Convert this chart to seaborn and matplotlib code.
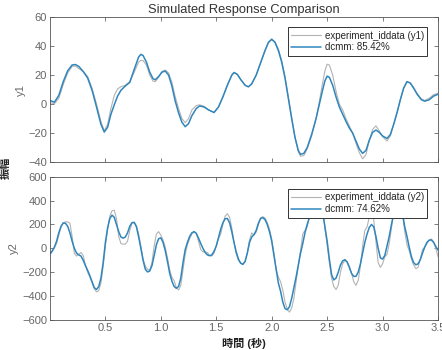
import numpy as np
import pandas as pd
import matplotlib
matplotlib.use("Agg")
import matplotlib.pyplot as plt
import seaborn as sns

# top panel: time, simulated (dcmm) and measured (experiment) output y1
t1 = [0.00, 0.04, 0.08, 0.12, 0.16, 0.20, 0.23, 0.26, 0.30, 0.34, 0.38, 0.42, 0.46, 0.49,
      0.52, 0.55, 0.58, 0.61, 0.64, 0.68, 0.72, 0.76, 0.80, 0.82, 0.84, 0.87, 0.90, 0.93,
      0.95, 0.98, 1.01, 1.04, 1.07, 1.10, 1.13, 1.16, 1.19, 1.22, 1.25, 1.28, 1.32, 1.35,
      1.39, 1.43, 1.48, 1.52, 1.56, 1.60, 1.64, 1.66, 1.69, 1.72, 1.76, 1.79, 1.82, 1.86,
      1.90, 1.94, 1.97, 2.00, 2.03, 2.06, 2.09, 2.12, 2.15, 2.18, 2.21, 2.24, 2.26, 2.29,
      2.32, 2.36, 2.40, 2.43, 2.46, 2.48, 2.50, 2.52, 2.55, 2.58, 2.61, 2.64, 2.67, 2.70,
      2.73, 2.76, 2.79, 2.82, 2.85, 2.88, 2.91, 2.94, 2.97, 3.00, 3.04, 3.07, 3.10, 3.13,
      3.16, 3.19, 3.22, 3.25, 3.28, 3.31, 3.35, 3.38, 3.42, 3.46, 3.50]
y1_sim = [2.5, 1.3, 6, 15.5, 23, 27, 27.3, 26, 22.5, 18, 9.5, -2, -14, -19.3,
          -16, -7, -0.5, 5.5, 9.5, 12.5, 15, 24, 32.5, 34.3, 33.5, 29, 22, 17.5,
          16.8, 19, 22, 22.8, 20, 12.5, 2, -6, -12.5, -15.6, -13.5, -8, -3, -1.3,
          -2, -4, -5.8, -2, 5, 13, 20, 21.8, 20.5, 17, 13, 11.9, 14, 20,
          28.5, 37, 42.5, 44.8, 42.5, 37, 29, 18, 4, -10, -23, -32, -34.7, -34,
          -30, -21, -10, 0, 10, 16, 19.3, 18.5, 13, 5, -2, -7, -12, -16.5,
          -20, -25.5, -31, -34, -32, -25, -19.5, -17.9, -19.5, -22, -23.7, -21, -14, -6,
          3, 11, 15.5, 14.5, 11, 7, 3, 2, 3, 5.5, 6.8]
y1_exp = [1.0, 0.3, 4, 13.5, 21.5, 26, 26.3, 24.5, 22.5, 19, 11, 0, -12, -18.5,
          -14, -3, 6, 10.5, 12, 13, 15.5, 22, 29, 30.2, 30, 27, 20, 15.8,
          15.5, 18.5, 22.5, 23.5, 21.5, 15, 5, -3, -10, -12.8, -10, -4, -1, -0.5,
          -1.5, -4, -5.8, -2, 5, 13, 20, 21.8, 20.5, 17, 13, 11.9, 14, 20,
          28.5, 37, 42.5, 44.5, 43, 38, 30, 19, 5, -9, -23, -33, -36, -35.5,
          -31, -22, -10, 2, 15, 23, 27.5, 27, 20, 9, 0, -4, -10, -15,
          -20, -27, -33.5, -37.8, -35, -25, -17.5, -15, -18.5, -22.5, -25.5, -22, -14, -6,
          3, 11, 15.5, 14.5, 11.5, 7.5, 3.5, 2.5, 4, 6.5, 7.5]

# bottom panel: output y2
t2 = [0.00, 0.02, 0.04, 0.06, 0.08, 0.10, 0.12, 0.14, 0.16, 0.18, 0.20, 0.22, 0.24, 0.26,
      0.28, 0.30, 0.32, 0.34, 0.36, 0.38, 0.40, 0.42, 0.44, 0.46, 0.48, 0.50, 0.52, 0.54,
      0.56, 0.58, 0.60, 0.62, 0.64, 0.66, 0.68, 0.70, 0.72, 0.74, 0.76, 0.78, 0.80, 0.82,
      0.84, 0.86, 0.88, 0.90, 0.92, 0.94, 0.96, 0.98, 1.00, 1.02, 1.04, 1.06, 1.08, 1.10,
      1.12, 1.14, 1.16, 1.18, 1.20, 1.22, 1.24, 1.26, 1.28, 1.30, 1.32, 1.34, 1.36, 1.38,
      1.40, 1.42, 1.44, 1.46, 1.48, 1.50, 1.52, 1.54, 1.56, 1.58, 1.60, 1.62, 1.64, 1.66,
      1.68, 1.70, 1.72, 1.74, 1.76, 1.78, 1.80, 1.82, 1.84, 1.86, 1.88, 1.90, 1.92, 1.94,
      1.96, 1.98, 2.00, 2.02, 2.04, 2.06, 2.08, 2.10, 2.12, 2.14, 2.16, 2.18, 2.20, 2.22,
      2.24, 2.26, 2.28, 2.30, 2.32, 2.34, 2.36, 2.38, 2.40, 2.42, 2.44, 2.46, 2.48, 2.50,
      2.52, 2.54, 2.56, 2.58, 2.60, 2.62, 2.64, 2.66, 2.68, 2.70, 2.72, 2.74, 2.76, 2.78,
      2.80, 2.82, 2.84, 2.86, 2.88, 2.90, 2.92, 2.94, 2.96, 2.98, 3.00, 3.02, 3.04, 3.06,
      3.08, 3.10, 3.12, 3.14, 3.16, 3.18, 3.20, 3.22, 3.24, 3.26, 3.28, 3.30, 3.32, 3.34,
      3.36, 3.38, 3.40, 3.42, 3.44, 3.46, 3.48, 3.50]
y2_sim = [-50, -25, 10, 60, 130, 185, 212, 210, 185, 130, 60, 0, -40, -55,
          -65, -100, -145, -185, -230, -280, -330, -345, -320, -250, -120, 50, 170, 250,
          278, 260, 200, 140, 95, 85, 95, 130, 185, 215, 218, 180, 95, 0,
          -100, -175, -198, -190, -145, -60, 30, 80, 88, 50, -20, -110, -210, -275,
          -320, -335, -320, -250, -120, -10, 50, 100, 130, 140, 125, 85, 40, 0,
          -35, -55, -62, -55, -25, 20, 90, 160, 215, 248, 250, 215, 140, 50,
          -30, -90, -125, -135, -110, -40, 50, 95, 115, 150, 210, 250, 257, 240,
          200, 140, 60, -60, -175, -290, -360, -450, -505, -515, -490, -420, -330, -240,
          -140, -40, 40, 130, 200, 260, 380, 445, 470, 460, 400, 300, 180, 60,
          -90, -220, -265, -250, -200, -140, -105, -95, -115, -160, -210, -235, -235, -200,
          -130, -40, 50, 120, 175, 200, 180, 100, 0, -80, -90, -60, 20, 100,
          200, 290, 360, 390, 360, 290, 180, 100, 10, -70, -120, -138, -130, -95,
          -40, 10, 50, 68, 70, 50, 15, -15]
y2_exp = [-40, -20, 5, 40, 110, 180, 215, 222, 222, 210, 100, -40, -65, -50,
          -35, -60, -140, -200, -240, -290, -340, -365, -355, -290, -150, 20, 160, 270,
          315, 320, 250, 100, 40, 35, 35, 60, 150, 210, 215, 190, 120, 20,
          -90, -150, -175, -185, -120, 20, 120, 140, 110, 70, 10, -80, -180, -245,
          -270, -330, -350, -310, -180, -50, 30, 80, 120, 140, 125, 60, -10, -30,
          -30, -35, -60, -65, -40, 20, 80, 120, 200, 270, 290, 260, 170, 50,
          -50, -100, -125, -130, -110, -40, 70, 130, 110, 135, 200, 255, 265, 255,
          215, 160, 80, -40, -180, -240, -280, -350, -450, -510, -535, -500, -420, -280,
          -150, -20, 120, 150, 180, 260, 380, 440, 470, 470, 420, 320, 170, 30,
          -120, -250, -320, -345, -310, -200, -130, -100, -110, -150, -210, -280, -310, -270,
          -150, 20, 150, 180, 260, 300, 240, 60, -120, -160, -130, -70, -50, 40,
          170, 300, 380, 420, 380, 280, 140, 30, -20, -90, -140, -170, -160, -90,
          -10, 10, 40, 70, 78, 55, 0, -70]

gray = "#b3b3b3"
blue = "#2f86bd"

sns.set_style("ticks")
plt.rcParams["font.family"] = ["Liberation Sans", "Noto Sans CJK JP", "DejaVu Sans"]

fig = plt.figure(figsize=(4.42, 3.5), dpi=100)
ax1 = fig.add_axes([0.113, 0.537, 0.878, 0.414])
ax2 = fig.add_axes([0.113, 0.086, 0.878, 0.409])

panels = [
    (ax1, t1, y1_exp, y1_sim, "y1", "experiment_iddata (y1)", "dcmm: 85.42%",
     (-40, 60), np.arange(-40, 61, 20), 0.931),
    (ax2, t2, y2_exp, y2_sim, "y2", "experiment_iddata (y2)", "dcmm: 74.62%",
     (-600, 600), np.arange(-600, 601, 200), 0.916),
]

for ax, t, yexp, ysim, name, lab_exp, lab_sim, ylim, yticks, ytop in panels:
    sns.lineplot(x=t, y=yexp, ax=ax, color=gray, linewidth=0.8, label=lab_exp)
    sns.lineplot(x=t, y=ysim, ax=ax, color=blue, linewidth=1.1, label=lab_sim)
    ax.set_xlim(0, 3.5)
    ax.set_ylim(*ylim)
    ax.set_xticks([0.5, 1, 1.5, 2, 2.5, 3, 3.5])
    ax.set_yticks(yticks)
    ax.set_ylabel(name, color="#666666", fontsize=8, labelpad=2)
    ax.tick_params(direction="in", length=3, width=0.6, colors="#666666",
                   labelsize=8, top=True, right=True, pad=2)
    for s in ax.spines.values():
        s.set_color("#555555")
        s.set_linewidth(0.6)
    leg = ax.legend(loc="upper right", bbox_to_anchor=(0.972, ytop), borderaxespad=0,
                    fontsize=7, frameon=True, fancybox=False, handlelength=3.0,
                    handletextpad=0.4, borderpad=0.35, labelspacing=0.2)
    leg.get_frame().set_edgecolor("#333333")
    leg.get_frame().set_linewidth(0.7)
    leg.get_frame().set_alpha(1)
    leg.set_zorder(5)

ax1.set_xticklabels([])
ax1.set_title("Simulated Response Comparison", fontsize=9.3, color="#333333", pad=3)
ax2.set_xlabel("時間 (秒)", fontsize=8, fontweight="bold", color="#222222", labelpad=4)
fig.text(0.012, 0.52, "振幅", rotation=90, fontsize=8, fontweight="bold",
         color="#222222", ha="center", va="center")

fig.savefig("out.png", dpi=100)
